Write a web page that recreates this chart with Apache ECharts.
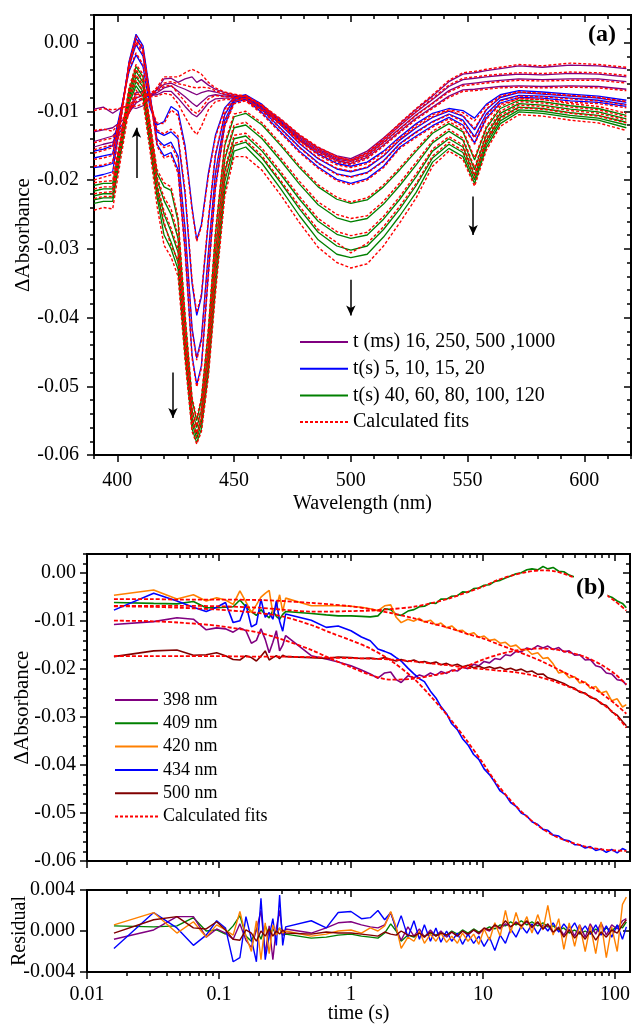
<!DOCTYPE html>
<html>
<head>
<meta charset="utf-8">
<title>Difference spectra and kinetic traces</title>
<script src="https://cdn.jsdelivr.net/npm/echarts@6.0.0/dist/echarts.min.js"></script>
<style>
  html, body { margin: 0; padding: 0; background: #fff; }
  #chart { width: 633px; height: 1024px; }
</style>
</head>
<body>
<div id="chart"></div>
<script>
// all ΔAbsorbance values are written in units of 0.001, axis labels convert back

// ---------- (a) difference spectra ----------
var wavelengths = [390, 394, 398, 402, 405, 408, 411, 414, 417, 420, 423, 426, 429, 432, 434, 436, 439, 442, 446, 450,
  455, 462, 470, 478, 486, 494, 500, 507, 514, 521, 528, 535, 542, 548, 553, 558, 564, 572, 582, 594, 606, 618]

var ms16 = [-9.7, -9.4, -10.3, -9.4, -9.3, -9.6, -9.2, -8.0, -6.8, -5.3, -5.2, -5.8, -5.3, -5.0, -5.8, -5.4, -6.2, -6.8, -7.3, -7.6, -7.9, -9.2, -11.2, -13.5, -15.3, -16.5, -16.9, -15.8, -13.9, -11.8, -9.7, -7.8, -5.7, -4.6, -4.4, -4.1, -3.8, -3.4, -3.6, -3.3, -3.4, -3.8]
var ms250 = [-13.0, -12.7, -12.4, -11.4, -10.2, -8.8, -8.2, -7.6, -6.9, -6.1, -5.9, -6.4, -6.8, -7.3, -7.6, -7.3, -7.0, -7.2, -7.6, -7.8, -8.0, -9.4, -11.4, -13.7, -15.5, -16.8, -17.1, -16.1, -14.2, -12.1, -10.1, -8.3, -6.4, -5.4, -5.2, -5.0, -4.8, -4.6, -4.7, -4.5, -4.6, -5.0]
var ms500 = [-14.4, -14.0, -13.6, -12.0, -10.3, -8.1, -7.7, -7.8, -7.3, -6.6, -6.3, -7.1, -7.9, -8.8, -9.3, -8.7, -7.8, -7.6, -7.8, -7.9, -8.1, -9.6, -11.6, -13.9, -15.7, -17.0, -17.3, -16.4, -14.5, -12.5, -10.5, -8.8, -7.0, -6.1, -5.9, -5.7, -5.5, -5.3, -5.4, -5.3, -5.3, -5.7]
var ms1000 = [-15.2, -14.8, -14.5, -12.6, -10.1, -7.3, -7.1, -7.7, -7.6, -7.1, -7.1, -8.1, -9.3, -10.4, -10.8, -10.1, -8.8, -8.2, -8.1, -8.1, -8.3, -9.8, -11.8, -14.1, -15.9, -17.2, -17.6, -16.7, -14.9, -12.9, -11.0, -9.4, -7.8, -6.9, -6.8, -6.6, -6.4, -6.3, -6.4, -6.3, -6.4, -6.8]
var s5 = [-15.8, -15.5, -15.0, -9.0, -4.2, -1.8, -3.5, -9.5, -12.0, -11.5, -9.3, -10.0, -15.0, -24.0, -28.7, -26.5, -19.0, -13.5, -9.5, -8.0, -7.6, -9.0, -11.6, -14.2, -16.2, -17.6, -18.0, -17.4, -15.8, -13.7, -11.8, -10.3, -9.6, -9.9, -11.0, -9.0, -7.6, -7.0, -7.2, -7.5, -7.8, -8.4]
var s10 = [-16.8, -16.5, -16.2, -9.2, -3.5, -0.3, -2.0, -8.5, -13.0, -13.5, -13.0, -14.0, -22.0, -35.0, -39.7, -37.0, -26.0, -16.5, -10.5, -8.3, -7.8, -9.4, -12.0, -14.7, -16.9, -18.4, -18.8, -18.2, -16.5, -14.2, -12.4, -10.9, -10.0, -10.7, -12.7, -9.8, -8.0, -7.3, -7.5, -7.8, -8.1, -8.7]
var s15 = [-18.2, -18.0, -17.6, -9.5, -3.0, 0.6, -1.0, -8.0, -14.0, -15.0, -14.5, -16.5, -27.0, -41.5, -45.9, -43.0, -30.5, -19.0, -11.3, -8.5, -8.0, -9.8, -12.5, -15.2, -17.5, -19.1, -19.5, -18.9, -17.2, -14.7, -13.0, -11.5, -10.4, -11.3, -13.7, -10.4, -8.4, -7.7, -7.8, -8.1, -8.4, -9.0]
var s20 = [-19.5, -19.2, -18.8, -10.0, -2.8, 1.2, -0.5, -7.5, -14.8, -16.5, -16.0, -18.5, -30.0, -45.5, -49.8, -47.0, -33.5, -21.0, -12.0, -8.7, -8.3, -10.2, -13.0, -15.8, -18.1, -19.9, -20.5, -19.8, -18.0, -15.2, -13.6, -12.1, -10.9, -12.0, -14.6, -11.0, -8.8, -8.0, -8.1, -8.5, -8.7, -9.3]
var s40 = [-20.8, -20.5, -20.5, -13.0, -7.0, -3.5, -5.0, -12.0, -19.0, -21.0, -21.5, -26.0, -40.0, -52.0, -55.0, -52.0, -42.0, -28.0, -15.0, -10.8, -10.3, -12.0, -15.0, -18.2, -21.0, -22.8, -23.4, -22.9, -21.0, -18.5, -15.8, -13.2, -11.8, -13.0, -17.1, -12.5, -9.6, -8.4, -8.6, -9.2, -9.6, -10.6]
var s60 = [-21.6, -21.3, -21.3, -13.5, -7.5, -4.2, -5.8, -12.8, -20.0, -23.0, -25.0, -28.5, -42.0, -53.5, -56.0, -53.5, -44.0, -30.5, -17.0, -12.4, -12.0, -14.0, -17.2, -20.6, -23.6, -25.5, -26.1, -25.6, -23.5, -20.8, -17.8, -14.6, -12.9, -14.2, -18.5, -13.5, -10.3, -8.9, -9.1, -9.7, -10.1, -11.1]
var s80 = [-22.3, -22.0, -22.0, -14.0, -8.0, -5.0, -6.5, -13.5, -21.0, -25.0, -27.5, -30.5, -43.5, -54.6, -57.0, -54.6, -45.5, -32.5, -18.8, -14.0, -13.6, -15.8, -19.2, -22.8, -26.0, -27.9, -28.5, -28.0, -25.7, -22.8, -19.5, -15.8, -14.0, -15.2, -19.4, -14.3, -10.9, -9.4, -9.6, -10.2, -10.6, -11.6]
var s100 = [-22.9, -22.6, -22.6, -14.5, -8.5, -5.7, -7.2, -14.2, -21.8, -26.5, -29.0, -32.0, -44.5, -55.4, -57.6, -55.4, -46.8, -34.2, -20.2, -15.0, -14.5, -16.8, -20.4, -24.2, -27.6, -29.6, -30.2, -29.6, -27.2, -24.2, -20.8, -16.8, -14.8, -16.0, -20.0, -14.8, -11.4, -9.8, -10.0, -10.6, -11.0, -12.0]
var s120 = [-23.4, -23.1, -23.1, -15.0, -9.0, -6.3, -7.8, -15.0, -22.5, -28.0, -30.0, -33.0, -45.5, -56.2, -58.2, -56.2, -48.0, -35.8, -21.5, -15.8, -15.2, -17.6, -21.3, -25.2, -28.7, -30.8, -31.3, -30.8, -28.3, -25.2, -21.8, -17.4, -15.4, -16.6, -20.5, -15.3, -11.8, -10.1, -10.3, -10.9, -11.3, -12.4]

// calculated fits for the spectra above, same order
var fitMs16 = [-9.9, -9.6, -9.8, -9.5, -9.1, -9.3, -8.9, -7.8, -6.5, -5.0, -5.0, -5.0, -4.4, -3.9, -4.2, -4.6, -5.8, -6.6, -7.2, -7.5, -7.8, -9.1, -11.1, -13.4, -15.2, -16.6, -17.1, -16.0, -14.0, -11.7, -9.6, -7.6, -5.5, -4.4, -4.2, -3.9, -3.6, -3.2, -3.4, -3.0, -3.2, -3.6]
var fitMs250 = [-12.8, -12.6, -12.9, -11.2, -10.0, -8.6, -8.0, -7.4, -6.7, -5.9, -5.7, -6.0, -6.2, -6.5, -6.6, -6.5, -6.6, -7.0, -7.5, -7.7, -7.9, -9.3, -11.3, -13.6, -15.4, -16.7, -17.2, -16.2, -14.3, -12.0, -10.0, -8.1, -6.2, -5.2, -5.0, -4.8, -4.6, -4.4, -4.5, -4.3, -4.4, -4.8]
var fitMs500 = [-14.6, -14.2, -13.9, -12.2, -10.1, -8.0, -7.5, -7.6, -7.1, -6.4, -6.2, -7.4, -8.6, -9.9, -10.3, -9.6, -8.2, -7.7, -7.9, -8.0, -8.2, -9.7, -11.7, -14.0, -15.8, -17.1, -17.5, -16.5, -14.6, -12.6, -10.6, -8.9, -7.2, -6.3, -6.1, -5.9, -5.7, -5.5, -5.6, -5.5, -5.5, -5.9]
var fitMs1000 = [-15.6, -15.2, -14.9, -12.9, -10.3, -7.6, -7.3, -7.9, -7.8, -7.4, -7.6, -8.9, -10.8, -12.6, -13.4, -12.2, -9.8, -8.6, -8.3, -8.3, -8.5, -10.0, -12.0, -14.3, -16.1, -17.4, -17.8, -16.9, -15.1, -13.1, -11.2, -9.6, -8.0, -7.1, -7.0, -6.8, -6.6, -6.5, -6.6, -6.5, -6.6, -7.0]
var fitS5 = [-16.1, -15.7, -15.3, -9.3, -4.0, -1.5, -3.2, -9.2, -11.7, -11.8, -9.8, -10.6, -15.6, -24.4, -28.9, -26.8, -19.4, -13.8, -9.7, -8.1, -7.7, -9.1, -11.7, -14.3, -16.4, -17.8, -18.2, -17.6, -16.0, -13.9, -12.0, -10.5, -9.8, -10.2, -11.4, -9.2, -7.8, -7.2, -7.4, -7.7, -8.0, -8.6]
var fitS10 = [-17.0, -16.8, -16.4, -9.4, -3.3, 0.0, -1.7, -8.2, -12.7, -13.3, -12.6, -13.6, -21.5, -34.6, -39.3, -36.6, -25.6, -16.2, -10.3, -8.2, -7.7, -9.3, -11.9, -14.6, -16.8, -18.3, -18.7, -18.1, -16.4, -14.1, -12.3, -10.8, -9.9, -10.6, -12.5, -9.7, -7.9, -7.2, -7.4, -7.7, -8.0, -8.6]
var fitS15 = [-18.0, -17.8, -17.4, -9.7, -3.2, 0.3, -1.3, -8.3, -14.3, -15.3, -14.9, -17.0, -27.5, -41.9, -46.2, -43.4, -30.9, -19.3, -11.5, -8.6, -8.1, -9.9, -12.6, -15.3, -17.6, -19.2, -19.6, -19.0, -17.3, -14.8, -13.1, -11.6, -10.5, -11.5, -13.9, -10.6, -8.5, -7.8, -7.9, -8.2, -8.5, -9.1]
var fitS20 = [-20.0, -19.6, -19.2, -10.3, -3.0, 1.0, -0.8, -7.8, -15.1, -16.8, -16.4, -19.0, -30.5, -45.9, -50.1, -47.4, -33.9, -21.4, -12.2, -8.9, -8.5, -10.4, -13.2, -16.0, -18.3, -20.1, -20.7, -20.0, -18.2, -15.4, -13.8, -12.3, -11.1, -12.2, -14.8, -11.2, -9.0, -8.2, -8.3, -8.7, -8.9, -9.5]
var fitS40 = [-20.4, -20.2, -20.1, -12.6, -6.6, -3.2, -4.6, -11.6, -18.5, -20.4, -21.0, -25.4, -39.4, -51.6, -54.7, -51.6, -41.5, -27.5, -14.6, -10.4, -10.0, -11.7, -14.7, -17.9, -20.7, -22.5, -23.2, -22.6, -20.7, -18.2, -15.5, -12.9, -11.5, -12.7, -16.8, -12.2, -9.3, -8.1, -8.3, -8.9, -9.3, -10.3]
var fitS60 = [-21.3, -21.0, -21.0, -13.2, -7.2, -3.9, -5.5, -12.4, -19.6, -22.5, -24.2, -28.0, -41.6, -53.2, -55.8, -53.2, -43.6, -30.0, -16.6, -12.0, -11.6, -13.6, -16.8, -20.2, -23.2, -25.0, -25.6, -25.2, -23.1, -20.4, -17.4, -14.3, -12.6, -13.9, -18.2, -13.2, -10.0, -8.6, -8.8, -9.4, -9.8, -10.8]
var fitS80 = [-22.0, -21.8, -21.7, -13.7, -7.7, -4.7, -6.2, -13.1, -20.6, -24.5, -27.0, -30.0, -43.1, -54.3, -56.8, -54.3, -45.1, -32.0, -18.4, -13.5, -13.2, -15.4, -18.8, -22.4, -25.6, -27.5, -28.1, -27.6, -25.3, -22.4, -19.1, -15.5, -13.7, -14.9, -19.1, -14.0, -10.6, -9.1, -9.3, -9.9, -10.3, -11.3]
var fitS100 = [-22.7, -22.4, -22.4, -14.3, -8.3, -5.5, -7.0, -14.0, -21.5, -26.1, -29.6, -31.6, -44.1, -55.1, -57.4, -55.1, -46.4, -33.8, -19.8, -14.7, -14.2, -16.5, -20.1, -23.8, -27.2, -29.1, -30.6, -29.2, -26.8, -23.8, -20.5, -16.5, -14.5, -15.7, -19.7, -14.5, -11.1, -9.5, -9.7, -10.3, -10.7, -11.7]
var fitS120 = [-24.4, -24.0, -24.2, -15.8, -9.6, -6.9, -8.5, -15.8, -23.8, -29.5, -31.2, -34.0, -46.2, -56.6, -58.4, -56.6, -48.6, -36.6, -22.4, -16.6, -16.6, -18.6, -22.2, -26.2, -29.8, -32.0, -32.8, -32.2, -29.6, -26.2, -22.6, -18.0, -15.8, -17.0, -20.9, -15.7, -12.2, -10.5, -10.7, -11.3, -11.7, -12.8]

// arrows: [wavelength, from, to]
var arrowMarks = [[408.2, -19.7, -12.4], [423.8, -48.0, -54.6], [500, -34.5, -39.7], [552.4, -22.4, -28.0]]

var wlTicks = [400, 450, 500, 550, 600]
var absTicks = [-60, -50, -40, -30, -20, -10, 0]

// ---------- (b) kinetic traces ----------
var times = [0.016, 0.032, 0.048, 0.064, 0.08, 0.096, 0.112, 0.128, 0.144, 0.16, 0.176, 0.192, 0.208, 0.224, 0.24, 0.256, 0.272, 0.288, 0.304, 0.32,
  0.5, 0.65, 0.8, 1.0, 1.2, 1.4, 1.6, 1.8, 2.0, 2.2, 2.4, 2.7, 3.0, 3.3, 3.6, 4.0, 4.4, 4.8, 5.3, 5.8,
  6.4, 7.0, 7.7, 8.5, 9.3, 10.2, 11.2, 12.3, 13.5, 14.8, 16.2, 17.8, 19.5, 21.5, 23.5, 26, 28.5, 31, 34, 37.5,
  41, 45, 49.5, 54, 59.5, 65, 71.5, 78.5, 86, 94.5, 104, 114, 122]

var nm398 = [-10.7, -10.1, -9.3, -9.6, -11.8, -11.4, -11.6, -12.3, -11.4, -12.0, -14.6, -14.0, -11.6, -13.8, -16.6, -14.4, -12.0, -16.2, -15.0, -13.0,
  -17.2, -17.9, -18.5, -19.3, -20.2, -21.0, -21.9, -20.8, -20.6, -22.2, -22.8, -21.4, -21.8, -21.2, -21.6, -20.8, -21.3, -20.5, -20.9, -20.2,
  -20.4, -19.6, -19.9, -19.0, -19.3, -18.4, -18.7, -17.8, -18.0, -17.0, -17.2, -16.3, -16.4, -15.6, -15.9, -15.1, -15.6, -15.2, -15.9, -15.5,
  -16.4, -16.2, -17.1, -17.0, -18.1, -18.0, -19.3, -19.6, -20.8, -21.0, -22.2, -22.4, -23.3]
var nm409 = [-6.1, -6.3, -6.4, -5.9, -7.2, -7.2, -7.1, -7.0, -5.6, -7.0, -8.0, -8.8, -7.6, -8.6, -9.3, -7.8, -9.0, -9.6, -8.6, -8.0,
  -8.4, -8.7, -8.9, -8.9, -9.0, -9.1, -8.9, -7.4, -7.6, -8.6, -8.8, -7.9, -7.6, -7.0, -6.9, -6.2, -6.3, -5.4, -5.4, -4.8,
  -4.7, -3.9, -4.0, -3.2, -3.1, -2.5, -2.4, -1.7, -1.5, -1.0, -0.6, -0.1, 0.1, 0.7, 0.9, 0.7, 1.4, 0.9, 1.2, 0.4,
  0.3, -0.4, -0.8, -1.6, -2.0, -2.7, -3.2, -3.9, -4.6, -5.0, -5.8, -6.3, -7.2]
var nm420 = [-4.6, -3.5, -5.4, -4.5, -5.8, -5.1, -5.6, -6.5, -3.7, -6.0, -8.2, -6.6, -5.0, -4.2, -3.6, -8.4, -7.2, -4.5, -8.0, -5.2,
  -6.8, -6.8, -6.8, -6.9, -7.1, -7.4, -7.8, -6.8, -6.6, -9.2, -10.3, -9.6, -10.0, -9.4, -10.2, -9.8, -10.8, -10.4, -11.4, -11.0,
  -12.0, -11.9, -12.8, -12.4, -13.4, -13.1, -14.0, -13.8, -14.6, -14.4, -15.3, -15.0, -16.0, -15.9, -16.9, -16.6, -17.8, -17.6, -18.9, -20.8,
  -20.6, -21.8, -21.6, -22.9, -22.7, -24.0, -23.6, -25.0, -24.6, -26.6, -26.2, -27.9, -27.4]
var nm434 = [-7.7, -4.2, -5.8, -7.1, -8.0, -7.1, -6.1, -10.3, -9.9, -6.5, -11.2, -10.6, -5.4, -9.2, -8.2, -9.6, -5.8, -10.0, -12.1, -8.5,
  -9.8, -11.3, -11.0, -12.0, -13.3, -14.1, -15.8, -16.3, -16.8, -17.6, -18.3, -19.8, -21.0, -22.0, -22.6, -24.6, -26.0, -27.8, -29.3, -31.4,
  -32.6, -34.5, -35.8, -37.8, -38.8, -40.8, -42.0, -43.6, -45.4, -46.2, -47.8, -48.6, -50.0, -50.6, -51.8, -52.4, -53.4, -53.6, -54.6, -54.8,
  -55.6, -55.8, -56.6, -56.6, -57.3, -57.0, -57.8, -57.5, -58.2, -57.6, -58.3, -57.4, -57.8]
var nm500 = [-17.4, -16.2, -16.0, -17.1, -17.0, -16.6, -17.2, -18.0, -18.1, -17.2, -17.6, -18.3, -17.3, -16.2, -18.1, -17.6, -17.2, -17.8, -17.1, -17.4,
  -17.6, -17.8, -17.5, -17.6, -17.8, -17.7, -17.9, -17.6, -18.0, -18.3, -18.0, -18.4, -18.1, -18.6, -18.4, -18.8, -18.5, -19.1, -18.8, -19.3,
  -19.0, -19.5, -19.2, -19.7, -19.4, -19.8, -19.5, -19.9, -19.6, -20.1, -19.8, -20.3, -20.0, -20.6, -20.4, -21.1, -21.0, -21.8, -22.1, -22.6,
  -23.0, -23.6, -24.0, -24.8, -25.0, -25.9, -26.2, -27.2, -27.6, -28.9, -29.6, -30.9, -31.8]

var fitTimes = [0.016, 0.03, 0.05, 0.1, 0.2, 0.3, 0.5, 0.7, 1, 1.4, 2, 3, 4, 5.5, 7.5, 10, 13, 17, 22, 28, 35, 45, 60, 80, 100, 122]
var fit398 = [-9.9, -10.0, -10.3, -11.0, -12.4, -13.8, -16.0, -17.8, -19.6, -21.2, -22.2, -22.0, -21.4, -20.6, -19.4, -18.0, -17.0, -16.2, -15.8, -15.7, -15.9, -16.5, -17.5, -19.2, -21.0, -23.2]
var fit409 = [-6.8, -6.8, -6.8, -6.9, -7.2, -7.6, -8.0, -8.0, -7.9, -7.8, -7.5, -7.0, -6.3, -5.3, -4.0, -2.8, -1.4, -0.4, 0.3, 0.6, 0.4, -0.5, -2.0, -4.0, -5.8, -7.8]
var fit420 = [-5.4, -5.4, -5.5, -5.5, -5.6, -5.8, -6.2, -6.5, -6.9, -7.5, -8.3, -9.4, -10.4, -11.4, -12.6, -13.6, -14.8, -16.0, -17.2, -18.4, -19.7, -21.2, -23.0, -25.2, -27.2, -29.3]
var fit434 = [-6.9, -7.0, -7.2, -7.6, -8.3, -9.0, -10.8, -12.4, -14.0, -15.7, -18.2, -22.0, -25.6, -30.0, -34.8, -39.6, -44.2, -48.0, -51.0, -53.2, -54.8, -56.0, -57.0, -57.6, -57.8, -57.9]
var fit500 = [-17.3, -17.3, -17.3, -17.3, -17.4, -17.4, -17.5, -17.6, -17.7, -17.8, -18.0, -18.4, -18.8, -19.2, -19.7, -20.0, -20.3, -20.6, -21.1, -21.8, -22.6, -23.7, -25.2, -27.2, -29.4, -32.2]

// residuals at the same times as the traces
var res398 = [-0.8, 0.1, 1.4, 1.4, -0.6, 0.2, -0.2, -0.8, 0.7, -0.9, -1.6, 0.1, 2.0, -2.2, 0.5, -2.8, 0.3, 2.0, -0.4, 0.2,
  -0.2, 0.3, 0.8, 0.9, 0.6, 0.4, 0.3, 0.6, 1.8, 0.2, -0.9, 0.4, -0.5, 0.2, -0.6, 0.1, -0.5, 0.0, -0.6, -0.1,
  -0.5, 0.0, -0.4, 0.1, -0.3, 0.2, 0.0, 0.5, 0.2, 0.7, 0.4, 0.9, 0.5, 0.9, 0.3, 0.8, 0.2, 0.6, -0.2, 0.4,
  -0.4, 0.5, -0.5, 0.6, -0.6, 0.7, -0.3, 0.8, -0.4, 0.6, 0.2, 1.0, 1.2]
var res409 = [0.5, 0.4, 0.5, 1.3, 0.0, 0.1, -0.3, 0.5, 1.5, -0.5, -1.0, 0.2, -0.8, 0.5, -0.4, 0.2, -0.3, 0.3, -0.4, -0.3,
  -0.7, -0.6, -0.4, -0.3, -0.5, -0.6, -0.7, -0.2, 0.7, 0.0, -1.0, -0.4, -0.6, -0.2, -0.5, -0.2, -0.4, -0.1, -0.4, 0.0,
  -0.3, 0.1, -0.2, 0.2, -0.1, 0.1, 0.4, 0.2, 0.6, 0.5, 0.9, 0.6, 1.0, 0.6, 0.9, 0.5, 0.8, 0.4, 0.5, 0.1,
  0.3, -0.2, 0.1, -0.3, 0.0, -0.3, 0.2, -0.2, 0.3, 0.0, 0.5, 0.3, 0.9]
var res420 = [0.6, 1.8, -0.2, 0.9, -0.6, 0.6, 0.1, -0.4, 1.9, -0.5, -2.0, 1.0, -2.8, 0.8, -2.2, 0.6, -0.4, 0.3, -0.2, 0.0,
  -0.5, -0.3, 0.0, 0.1, -0.2, 0.3, 0.0, 0.5, 1.9, 0.4, -1.7, -0.6, -1.0, 0.0, -1.2, -0.3, -1.0, -0.2, -1.1, -0.5,
  -1.2, -0.2, -1.0, -0.3, -1.3, 0.2, -0.9, 0.8, -0.5, 2.0, -0.2, 1.8, 0.2, 1.4, -0.2, 1.6, 0.1, 2.5, -0.4, 1.2,
  -1.8, 0.8, -1.5, 0.6, -2.0, 0.5, -2.2, 0.9, -2.6, 0.4, -2.0, 2.6, 3.3]
var res434 = [-1.7, 1.8, 0.3, -1.4, -0.4, 1.0, 0.3, -3.0, -2.6, 1.4, -0.8, -3.0, 3.2, -2.8, -0.5, 1.2, -1.4, 3.5, -1.4, 0.4,
  1.0, 0.3, 1.8, 1.9, 1.2, 1.3, 2.0, 1.1, 1.8, 0.2, 1.5, -0.6, 1.0, -0.8, 0.6, -1.0, 0.3, -1.1, 0.0, -1.0,
  -0.2, -1.3, -0.3, -1.2, -0.5, -1.5, -0.6, -1.9, -0.4, -1.2, 0.2, -0.6, 0.5, -0.2, 0.7, -0.3, 0.6, 0.0, 0.8, -0.1,
  0.7, 0.0, 0.8, -0.2, 0.5, -0.3, 0.6, -0.4, 0.5, -0.6, 0.6, -0.8, 0.4]
var res500 = [-0.2, 1.1, 1.4, 0.3, 0.2, 0.9, 0.1, -0.8, -0.9, 0.1, -0.2, -1.0, 0.0, -0.5, 0.2, -0.5, 0.0, -0.3, 0.1, -0.2,
  -0.3, -0.1, -0.2, -0.2, -0.3, -0.4, -0.5, -0.1, -0.3, -0.4, 0.0, -0.4, -0.5, -0.2, -0.6, -0.1, -0.5, -0.2, -0.4, -0.1,
  -0.5, 0.0, -0.3, 0.1, -0.2, 0.3, 0.1, 0.6, 0.3, 1.0, 0.4, 0.8, 0.5, 1.0, 0.4, 0.9, 0.2, 0.7, -0.1, 0.3,
  -0.6, 0.1, -0.7, -0.1, -0.8, 0.0, -0.9, -0.1, -0.6, 0.1, -0.2, 0.6, 1.1]

var timeTicks = [0.01, 0.1, 1, 10, 100]
var timeTickLabels = ['0.01', '0.1', '1', '10', '100']
var resTicks = [-4, 0, 4]

// ---------- styling ----------
var FONT = 'Liberation Serif'
var PURPLE = '#800080', BLUE = '#0000ff', GREEN = '#008000', RED = '#ff0000', ORANGE = '#ff8000', MAROON = '#800000'
var T_MAX = 130

var chart = echarts.init(document.getElementById('chart'))

function line(name, xs, ys, color, width, dash, xi, yi) {
  return {
    type: 'line', name: name, xAxisIndex: xi, yAxisIndex: yi,
    data: xs.map(function (x, i) { return [x, ys[i]] }),
    symbol: 'none', silent: true, animation: false,
    lineStyle: { color: color, width: width, type: dash || 'solid' },
    itemStyle: { color: color },
    z: dash ? 3 : 2
  }
}

// one side of a plot frame; ticks given explicitly
function side(grid, pos, min, max, ticks, len, inside) {
  return {
    gridIndex: grid, type: 'value', position: pos, min: min, max: max,
    axisLine: { show: true, onZero: false, lineStyle: { color: '#000', width: 2 } },
    axisTick: { show: true, inside: inside, length: len, customValues: ticks, lineStyle: { color: '#000', width: 1.5 } },
    axisLabel: { show: false },
    splitLine: { show: false },
    minorTick: { show: false }
  }
}
function labelled(ax, values, fmt, size, margin) {
  ax.axisLabel = { show: true, customValues: values, formatter: fmt, fontFamily: FONT, fontSize: size, color: '#000', margin: margin }
  return ax
}
function named(ax, name, gap, size) {
  ax.name = name
  ax.nameLocation = 'middle'
  ax.nameGap = gap
  ax.nameMoveOverlap = false
  ax.nameTextStyle = { fontFamily: FONT, fontSize: size, color: '#000' }
  return ax
}

function between(lo, hi, step, skip) {
  var out = []
  for (var v = lo; v <= hi + 1e-9; v += step) {
    var r = Math.round(v * 1000) / 1000
    if (Math.abs(r % skip) > 1e-6) out.push(r)
  }
  return out
}
var wlMinor = between(390, 620, 10, 50)
var absMinor = between(-58, 4, 2, 10)
var logMax = Math.log10(T_MAX)
var logMajor = timeTicks.map(Math.log10)
var logMinor = []
timeTicks.forEach(function (d) {
  for (var k = 2; k <= 9; k++) {
    var v = Math.log10(k * d)
    if (v <= logMax) logMinor.push(v)
  }
})

function absFmt(v) { return (v / 1000).toFixed(2) }
function resFmt(v) { return (v / 1000).toFixed(3) }
function timeFmt(v) { return timeTickLabels[Math.round(v) + 2] }

var xAxes = [
  // (a) 0-3
  named(labelled(side(0, 'bottom', 390, 620, wlTicks, 7, false), wlTicks, null, 20, 16), 'Wavelength (nm)', 39, 20),
  side(0, 'bottom', 390, 620, wlMinor, 4, false),
  side(0, 'top', 390, 620, wlTicks, 7, true),
  side(0, 'top', 390, 620, wlMinor, 4, true),
  // (b) 4 = data axis, 5-8 frame
  { gridIndex: 1, type: 'log', logBase: 10, min: 0.01, max: T_MAX, show: false },
  side(1, 'bottom', -2, logMax, logMajor, 7, false),
  side(1, 'bottom', -2, logMax, logMinor, 4, false),
  side(1, 'top', -2, logMax, logMajor, 7, true),
  side(1, 'top', -2, logMax, logMinor, 4, true),
  // residuals 9 = data axis, 10-13 frame
  { gridIndex: 2, type: 'log', logBase: 10, min: 0.01, max: T_MAX, show: false },
  named(labelled(side(2, 'bottom', -2, logMax, logMajor, 7, false), logMajor, timeFmt, 20, 13), 'time (s)', 32, 20),
  side(2, 'bottom', -2, logMax, logMinor, 4, false),
  side(2, 'top', -2, logMax, logMajor, 7, true),
  side(2, 'top', -2, logMax, logMinor, 4, true)
]

var yAxes = [
  // (a) 0-3
  named(labelled(side(0, 'left', -60, 4, absTicks, 7, false), absTicks, absFmt, 20, 15), 'ΔAbsorbance', 60, 21),
  side(0, 'left', -60, 4, absMinor, 4, false),
  side(0, 'right', -60, 4, absTicks, 7, true),
  side(0, 'right', -60, 4, absMinor, 4, true),
  // (b) 4-7
  named(labelled(side(1, 'left', -60, 4, absTicks, 7, false), absTicks, absFmt, 20, 11), 'ΔAbsorbance', 54, 21),
  side(1, 'left', -60, 4, absMinor, 4, false),
  side(1, 'right', -60, 4, absTicks, 7, true),
  side(1, 'right', -60, 4, absMinor, 4, true),
  // residuals 8-9
  named(labelled(side(2, 'left', -4, 4, resTicks, 7, false), resTicks, resFmt, 20, 12), 'Residual', 57, 20),
  side(2, 'right', -4, 4, resTicks, 7, true)
]

var LA = ['t (ms) 16, 250, 500 ,1000', 't(s) 5, 10, 15, 20', 't(s) 40, 60, 80, 100, 120', 'Calculated fits']
var series = []
var groups = [
  [LA[0], PURPLE, [ms16, ms250, ms500, ms1000], [fitMs16, fitMs250, fitMs500, fitMs1000]],
  [LA[1], BLUE, [s5, s10, s15, s20], [fitS5, fitS10, fitS15, fitS20]],
  [LA[2], GREEN, [s40, s60, s80, s100, s120], [fitS40, fitS60, fitS80, fitS100, fitS120]]
]
groups.forEach(function (g) {
  g[2].forEach(function (vals) { series.push(line(g[0], wavelengths, vals, g[1], 1.3, null, 0, 0)) })
})
groups.forEach(function (g) {
  g[3].forEach(function (vals) { series.push(line(LA[3], wavelengths, vals, RED, 1.4, [3, 2], 0, 0)) })
})
series[0].markLine = {
  silent: true, animation: false,
  symbol: ['none', 'arrow'], symbolSize: [7, 10],
  label: { show: false },
  lineStyle: { color: '#000', width: 1.5, type: 'solid' },
  data: arrowMarks.map(function (a) { return [{ coord: [a[0], a[1]] }, { coord: [a[0], a[2]] }] })
}

var LB = ['398 nm', '409 nm', '420 nm', '434 nm', '500 nm']
var traces = [
  [LB[0], PURPLE, nm398, fit398, res398],
  [LB[1], GREEN, nm409, fit409, res409],
  [LB[2], ORANGE, nm420, fit420, res420],
  [LB[3], BLUE, nm434, fit434, res434],
  [LB[4], MAROON, nm500, fit500, res500]
]
traces.forEach(function (t) { series.push(line(t[0], times, t[2], t[1], 1.6, null, 4, 4)) })
traces.forEach(function (t) {
  var s = line(LA[3], fitTimes, t[3], RED, 1.8, [4, 2], 4, 4)
  s.smooth = 0.3
  series.push(s)
})
// residual draw order: green, purple, blue, orange, maroon on top
;[1, 0, 3, 2, 4].forEach(function (i) {
  var t = traces[i]
  series.push(line(t[0], times, t[4], t[1], 1.4, null, 9, 8))
})

function legendText(size) { return { fontFamily: FONT, fontSize: size, color: '#000' } }

chart.setOption({
  animation: false,
  backgroundColor: '#fff',
  title: [
    { text: '(a)', left: 588, top: 23, padding: 0, textStyle: { fontFamily: FONT, fontSize: 24, fontWeight: 'bold', color: '#000' } },
    { text: '(b)', left: 574, top: 576, padding: [0, 2], backgroundColor: '#fff', textStyle: { fontFamily: FONT, fontSize: 24, fontWeight: 'bold', color: '#000' } }
  ],
  legend: [
    {
      data: LA, orient: 'vertical', left: 299, top: 332, padding: 0, itemWidth: 48, itemHeight: 14, itemGap: 6.7,
      selectedMode: false, itemStyle: { opacity: 0 }, textStyle: legendText(20)
    },
    {
      data: LB.concat([LA[3]]), orient: 'vertical', left: 114, top: 691, padding: 0, itemWidth: 43, itemHeight: 14, itemGap: 5.3,
      selectedMode: false, itemStyle: { opacity: 0 }, textStyle: legendText(18)
    }
  ],
  grid: [
    { left: 94, top: 15, right: 2, bottom: 569, outerBoundsMode: 'none' },
    { left: 87, top: 554, right: 3, bottom: 163, outerBoundsMode: 'none' },
    { left: 87, top: 890, right: 3, bottom: 52, outerBoundsMode: 'none' }
  ],
  xAxis: xAxes,
  yAxis: yAxes,
  series: series
})
</script>
</body>
</html>
